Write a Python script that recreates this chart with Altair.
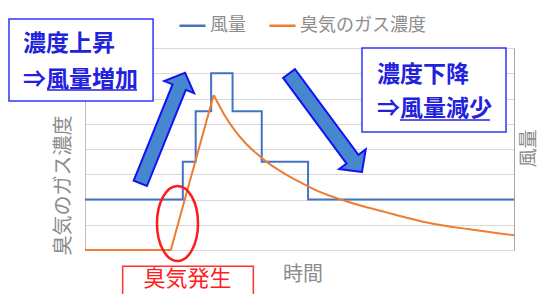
import altair as alt
import pandas as pd

FONT = "Noto Sans CJK JP"

# ---- series data (time units on x, grid units on y) ----
series_names = ["風量", "臭気のガス濃度"]
series_colors = ["#4472C4", "#ED7D31"]

# odour concentration: rise part (straight) and decay part (smooth)
time_rise = [0, 1.0, 1.5]
conc_rise = [0, 0, 6.14]
time_decay = [1.5, 1.625, 1.75, 1.875, 2.0, 2.125, 2.25, 2.375, 2.5,
              2.75, 3.0, 3.25, 3.5, 3.75, 4.0, 4.5, 5.0]
conc_decay = [6.14, 5.35, 4.72, 4.22, 3.82, 3.47, 3.18, 2.93, 2.70,
              2.28, 1.98, 1.72, 1.50, 1.28, 1.08, 0.81, 0.58]

time_air = [0, 1.14, 1.29, 1.47, 1.72, 2.06, 2.60, 5.0]
air = [2, 3.5, 5.5, 7, 5.5, 3.5, 2, 2]

# ---- annotation data ----
x_title = ["時間"]
x_title_x = [2.54]
x_title_y = [-0.99]

box_x1 = [-0.886, 3.228]
box_x2 = [0.793, 4.907]
box_y1 = [9.15, 8.0]
box_y2 = [5.90, 4.673]

note_text = ["濃度上昇", "⇒風量増加", "濃度下降", "⇒風量減少"]
note_x = [-0.723, -0.723, 3.403, 3.403]
note_y = [8.15, 6.73, 6.95, 5.58]

underline_x1 = [-0.443, 3.671]
underline_x2 = [0.606, 4.72]
underline_y = [6.34, 5.15]

arrow_x = [0.905, 2.803]
arrow_y = [4.83, 5.04]
arrow_angle = [22, 143.5]
arrow_size = [14233, 15030]

ellipse_x = [1.078]
ellipse_y = [1.05]

redbox_x1 = [0.439]
redbox_x2 = [1.962]
redbox_y1 = [-0.64]
redbox_y2 = [-2.4]
red_text = ["臭気発生"]
red_text_x = [1.195]
red_text_y = [-1.15]

X_DOM = [0, 5]
Y_DOM = [0, 8]

rise_df = pd.DataFrame({"t": time_rise, "v": conc_rise, "series": series_names[1]})
decay_df = pd.DataFrame({"t": time_decay, "v": conc_decay, "series": series_names[1]})
air_df = pd.DataFrame({"t": time_air, "v": air, "series": series_names[0]})
xt_df = pd.DataFrame({"text": x_title, "x": x_title_x, "y": x_title_y})
box_df = pd.DataFrame({"x1": box_x1, "x2": box_x2, "y1": box_y1, "y2": box_y2})
note_df = pd.DataFrame({"text": note_text, "x": note_x, "y": note_y})
ul_df = pd.DataFrame({"x1": underline_x1, "x2": underline_x2, "y": underline_y})
arrow_df = pd.DataFrame({"x": arrow_x, "y": arrow_y, "angle": arrow_angle, "size": arrow_size})
ell_df = pd.DataFrame({"x": ellipse_x, "y": ellipse_y})
redbox_df = pd.DataFrame({"x1": redbox_x1, "x2": redbox_x2, "y1": redbox_y1, "y2": redbox_y2})
redtext_df = pd.DataFrame({"text": red_text, "x": red_text_x, "y": red_text_y})


def xs(field):
    return alt.X(field, type="quantitative", scale=alt.Scale(domain=X_DOM, nice=False, zero=False), axis=None)


def ys(field):
    return alt.Y(field, type="quantitative", scale=alt.Scale(domain=Y_DOM, nice=False, zero=False), axis=None)


color = alt.Color(
    "series:N",
    scale=alt.Scale(domain=series_names, range=series_colors),
    legend=alt.Legend(
        title=None, orient="none", legendX=93, legendY=-37, direction="horizontal",
        symbolType="stroke", symbolSize=676, symbolStrokeWidth=2.5,
        labelFontSize=18, labelColor="#8c8c8c", labelFont=FONT, labelOffset=3,
        columnPadding=18, padding=0,
    ),
)

air_line = alt.Chart(air_df).mark_line(interpolate="step-after", strokeWidth=2).encode(
    x=alt.X("t:Q", scale=alt.Scale(domain=X_DOM, nice=False, zero=False),
            axis=alt.Axis(values=[0, 1, 2, 3, 4, 5], labels=False, ticks=False, grid=True,
                          gridColor="#d9d9d9", domainColor="#bfbfbf", title=None)),
    y=alt.Y("v:Q", scale=alt.Scale(domain=Y_DOM, nice=False, zero=False),
            axis=alt.Axis(orient="right", values=list(range(9)), labels=False, ticks=False,
                          grid=False, domainColor="#a6a6a6", title="風量",
                          titleFont=FONT, titleFontSize=19, titleFontWeight="normal",
                          titleColor="#8c8c8c", titleAngle=270, titleX=14, titleY=100,
                          titleAlign="center", titleBaseline="middle")),
    color=color,
)

rise_line = alt.Chart(rise_df).mark_line(strokeWidth=2).encode(
    x=xs("t"),
    y=alt.Y("v:Q", scale=alt.Scale(domain=Y_DOM, nice=False, zero=False),
            axis=alt.Axis(orient="left", values=list(range(9)), labels=False, ticks=False,
                          grid=True, gridColor="#d9d9d9", domainColor="#bfbfbf",
                          title="臭気のガス濃度", titleFont=FONT, titleFontSize=20,
                          titleFontWeight="normal", titleColor="#8c8c8c", titleAngle=270,
                          titleX=-22, titleY=137, titleAlign="center", titleBaseline="middle")),
    color=color,
)

decay_line = alt.Chart(decay_df).mark_line(strokeWidth=2, interpolate="monotone").encode(
    x=xs("t"), y=ys("v"), color=color,
)

xtitle = alt.Chart(xt_df).mark_text(
    align="center", baseline="middle", font=FONT, fontSize=20, color="#8c8c8c"
).encode(x=xs("x"), y=ys("y"), text="text:N")

ARROW = "M0,-1L0.27,-0.74L0.12,-0.74L0.12,1L-0.12,1L-0.12,-0.74L-0.27,-0.74Z"
arrows = alt.Chart(arrow_df).mark_point(
    shape=ARROW, filled=True, fill="#4787D0", stroke="#1414F0", strokeWidth=2,
    opacity=1, fillOpacity=1, strokeOpacity=1,
).encode(
    x=xs("x"), y=ys("y"),
    angle=alt.Angle("angle:Q", scale=None),
    size=alt.Size("size:Q", scale=None, legend=None),
)

ELLIPSE = "M-0.547,0A0.547,1,0,1,0,0.547,0A0.547,1,0,1,0,-0.547,0Z"
ellipse = alt.Chart(ell_df).mark_point(
    shape=ELLIPSE, filled=False, stroke="#ff1a1a", strokeWidth=2.5, opacity=1, size=5625,
).encode(x=xs("x"), y=ys("y"))

boxes = alt.Chart(box_df).mark_rect(fill="white", stroke="#3333ff", strokeWidth=1.5).encode(
    x=xs("x1"), x2="x2", y=ys("y1"), y2="y2"
)

notes = alt.Chart(note_df).mark_text(
    align="left", baseline="middle", font=FONT, fontSize=23, fontWeight="bold", color="#2222dd"
).encode(x=xs("x"), y=ys("y"), text="text:N")

underlines = alt.Chart(ul_df).mark_rule(color="#2222dd", strokeWidth=1.5).encode(
    x=xs("x1"), x2="x2", y=ys("y")
)

redbox = alt.Chart(redbox_df).mark_rect(fill="white", stroke="#ff3333", strokeWidth=1.5).encode(
    x=xs("x1"), x2="x2", y=ys("y1"), y2="y2"
)

redtext = alt.Chart(redtext_df).mark_text(
    align="center", baseline="middle", font=FONT, fontSize=22, color="#ff2020"
).encode(x=xs("x"), y=ys("y"), text="text:N")

chart = alt.layer(
    air_line, rise_line, decay_line, xtitle, arrows, ellipse, boxes, notes, underlines,
    redbox, redtext
).resolve_scale(y="independent").properties(
    width=429, height=202,
    padding={"left": 77, "top": 40, "right": 24, "bottom": 44},
    autosize=alt.AutoSizeParams(type="none"),
).configure_view(stroke=None).configure(font=FONT)

chart.save("out.html", embed_options={"renderer": "svg", "actions": False})
